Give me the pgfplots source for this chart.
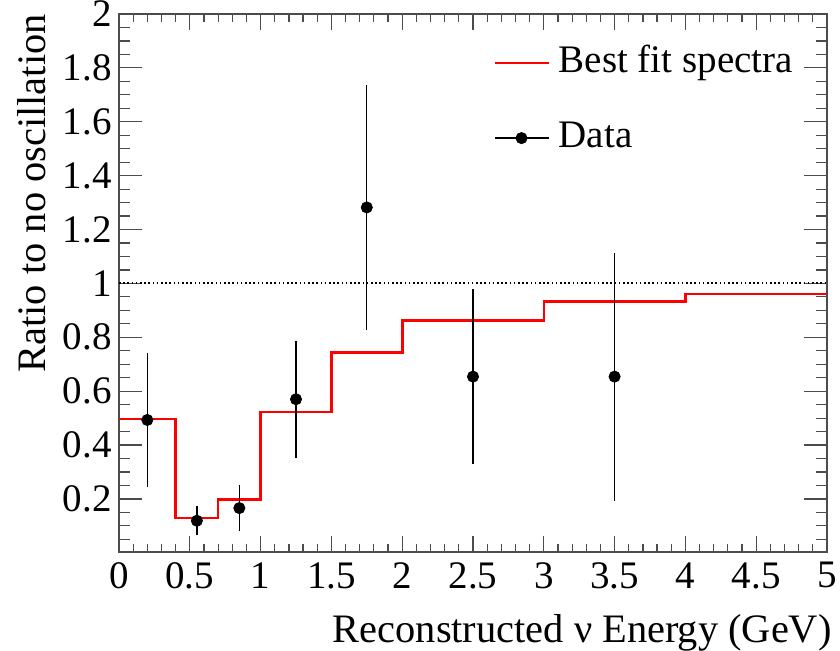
\documentclass[border=0pt]{standalone}
\usepackage{fontspec}
\setmainfont{Liberation Serif}
\usepackage{pgfplots}
\pgfplotsset{compat=1.18}
\newcommand\fs{\fontsize{19.5}{23}\selectfont}
\newcommand\fl{\fontsize{20.2}{24}\selectfont}
\begin{document}
\begin{tikzpicture}
\begin{axis}[
  scale only axis,
  width=354pt, height=269pt,
  xmin=0, xmax=5, ymin=0.003, ymax=2,
  xtick={0,0.5,1,1.5,2,2.5,3,3.5,4,4.5,5},
  ytick={0.2,0.4,0.6,0.8,1,1.2,1.4,1.6,1.8,2},
  minor xtick={0.1,0.2,0.3,0.4,0.6,0.7,0.8,0.9,1.1,1.2,1.3,1.4,1.6,1.7,1.8,1.9,2.1,2.2,2.3,2.4,2.6,2.7,2.8,2.9,3.1,3.2,3.3,3.4,3.6,3.7,3.8,3.9,4.1,4.2,4.3,4.4,4.6,4.7,4.8,4.9},
  minor ytick={0.05,0.1,0.15,0.25,0.3,0.35,0.45,0.5,0.55,0.65,0.7,0.75,0.85,0.9,0.95,1.05,1.1,1.15,1.25,1.3,1.35,1.45,1.5,1.55,1.65,1.7,1.75,1.85,1.9,1.95},
  tick align=inside,
  tick pos=both,
  xticklabel pos=lower, yticklabel pos=left,
  xtick style={/pgfplots/major tick length=8pt, /pgfplots/minor tick length=4pt, line width=0.6pt, black!70},
  ytick style={/pgfplots/major tick length=11.3pt, /pgfplots/minor tick length=5.5pt, line width=0.6pt, black!70},
  axis line style={line width=0.7pt, black!70},
  /pgf/number format/assume math mode=true,
  every tick label/.append style={font=\fs},
  xticklabel style={inner sep=0pt, anchor=north, yshift=-5pt},
  yticklabel style={inner sep=0pt, anchor=east, xshift=-3.5pt},
  xlabel={Reconstructed ν Energy (GeV)},
  ylabel={Ratio to no oscillation},
  every axis x label/.style={at={(axis description cs:1,-0.169)}, anchor=base east, font=\fl, inner sep=0pt, xshift=2.5pt},
  every axis y label/.style={at={(axis description cs:-0.1045,1)}, rotate=90, anchor=base east, font=\fl, inner sep=0pt},
  legend style={at={(rel axis cs:0.528,0.839)}, anchor=west, draw=none, fill=none, font=\fs,
    inner sep=0pt, row sep=20.5pt, column sep=4.5pt,
    nodes={inner sep=0pt, text height=13pt, text depth=4pt}},
  legend cell align=left,
]
\addplot[red, line width=1.3pt, const plot mark left,
  legend image code/.code={\draw[red, line width=1.3pt] (0pt,0pt) -- (27pt,0pt);}]
  coordinates {(0,0.497) (0.4,0.129) (0.7,0.197) (1.0,0.523) (1.5,0.743) (2.0,0.863) (3.0,0.932) (4.0,0.96) (5,0.96)};
\addlegendentry{Best fit spectra}
\addplot[black, only marks, mark=*, mark size=2.8pt,
  legend image code/.code={\draw[black, line width=0.65pt] (0pt,0pt) -- (27pt,0pt); \fill[black] (13.5pt,0pt) circle (2.8pt);},
  error bars/.cd, y dir=both, y explicit, error mark=none,
  error bar style={line width=0.65pt, black}]
  table[x=x, y=y, y error=e] {
x y e
0.2 0.493 0.247
0.55 0.119 0.053
0.85 0.166 0.085
1.25 0.570 0.217
1.75 1.282 0.454
2.5 0.654 0.325
3.5 0.654 0.460
};
\addlegendentry{Data}
\addplot[black, line width=0.9pt, dash pattern=on 0.8pt off 1.3pt, forget plot]
  coordinates {(0,1) (5,1)};
\coordinate (ll) at (rel axis cs:0,0);
\coordinate (ur) at (rel axis cs:1,1);
\end{axis}
\pgfresetboundingbox
\path[use as bounding box] ([shift={(-59.5pt,-49.5pt)}]ll) rectangle ([shift={(6.5pt,7pt)}]ur);
\end{tikzpicture}
\end{document}
